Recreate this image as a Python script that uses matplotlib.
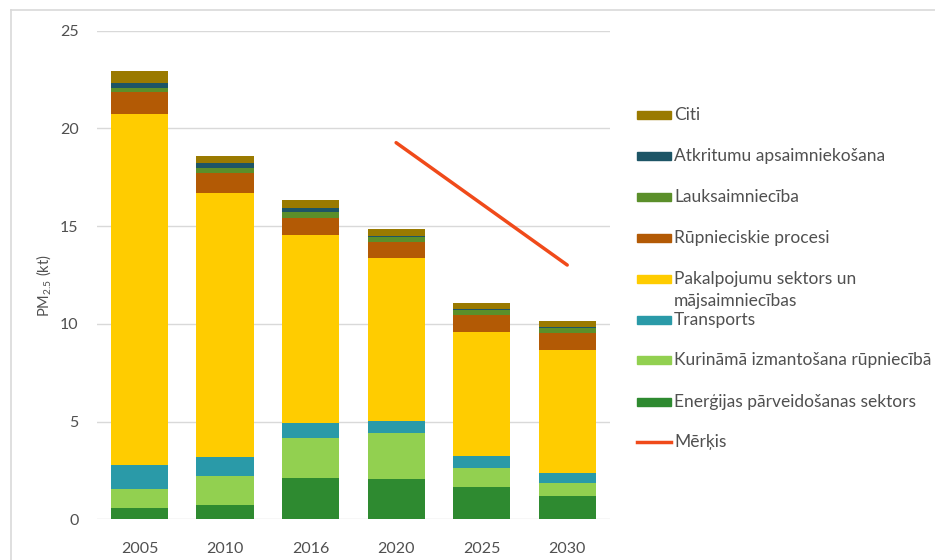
import matplotlib.pyplot as plt
from matplotlib.lines import Line2D
from matplotlib.patches import Rectangle

plt.rcParams['font.family'] = ['Lato', 'DejaVu Sans']
plt.rcParams['font.size'] = 11

years = ["2005", "2010", "2016", "2020", "2025", "2030"]

# sektoru vērtības (kt), no apakšas uz augšu
energija = [0.59, 0.72, 2.10, 2.06, 1.67, 1.21]
kurinama = [0.96, 1.48, 2.06, 2.34, 0.96, 0.65]
transports = [1.23, 1.00, 0.78, 0.65, 0.61, 0.53]
pakalpojumu = [17.95, 13.48, 9.62, 8.31, 6.36, 6.28]
rupnieciskie = [1.12, 1.03, 0.88, 0.85, 0.86, 0.88]
lauksaimn = [0.21, 0.25, 0.26, 0.22, 0.23, 0.26]
atkritumi = [0.25, 0.26, 0.23, 0.06, 0.05, 0.05]
citi = [0.63, 0.36, 0.41, 0.35, 0.35, 0.29]

merkis_x = ["2020", "2030"]
merkis = [19.27, 13.01]

series = [
    ("Enerģijas pārveidošanas sektors", energija, "#2e8a30"),
    ("Kurināmā izmantošana rūpniecībā", kurinama, "#92d050"),
    ("Transports", transports, "#2a9aa8"),
    ("Pakalpojumu sektors un\nmājsaimniecības", pakalpojumu, "#ffcc00"),
    ("Rūpnieciskie procesi", rupnieciskie, "#b35a05"),
    ("Lauksaimniecība", lauksaimn, "#5b8f2a"),
    ("Atkritumu apsaimniekošana", atkritumi, "#1d5566"),
    ("Citi", citi, "#9a7a00"),
]
line_color = "#f04a1a"
txt_color = "#505050"

fig = plt.figure(figsize=(9.35, 5.6), dpi=100)
ax = fig.add_axes([0.1034, 0.0727, 0.549, 0.8725])

x = list(range(len(years)))
bottom = [0.0] * len(years)
for name, vals, col in series:
    ax.bar(x, vals, bottom=bottom, width=0.667, color=col, zorder=3)
    bottom = [b + v for b, v in zip(bottom, vals)]

mx = [years.index(y) for y in merkis_x]
ax.plot(mx, merkis, color=line_color, lw=2.5, solid_capstyle='round', zorder=4)

ax.set_xlim(-0.5, 5.5)
ax.set_ylim(0, 25)
ax.set_yticks([0, 5, 10, 15, 20, 25])
ax.set_xticks(x)
ax.set_xticklabels(years)
ax.grid(axis='y', color='#d9d9d9', lw=1, zorder=0)
for s in ax.spines.values():
    s.set_visible(False)
ax.tick_params(length=0, colors=txt_color, labelsize=11.5)
ax.tick_params(axis='y', pad=13)
ax.tick_params(axis='x', pad=16)
fig.text(0.047, 0.49, r'PM$_{\mathregular{2.5}}$ (kt)', rotation=90,
         ha='center', va='center', fontsize=10.5, color=txt_color)

# leģenda (kā Excel)
rows = [
    ("Citi", "#9a7a00", 115),
    ("Atkritumu apsaimniekošana", "#1d5566", 156),
    ("Lauksaimniecība", "#5b8f2a", 197),
    ("Rūpnieciskie procesi", "#b35a05", 238),
    ("Pakalpojumu sektors un\nmājsaimniecības", "#ffcc00", 279),
    ("Transports", "#2a9aa8", 320),
    ("Kurināmā izmantošana rūpniecībā", "#92d050", 360),
    ("Enerģijas pārveidošanas sektors", "#2e8a30", 402),
]
W, H = 935, 560
for name, col, py in rows:
    fig.patches.append(Rectangle((637 / W, 1 - (py + 4) / H), 34 / W, 8 / H,
                                 color=col, transform=fig.transFigure))
    if '\n' in name:
        fig.text(674 / W, 1 - (py - 8) / H, name, ha='left', va='top',
                 fontsize=12.5, color=txt_color, linespacing=1.45)
    else:
        fig.text(674 / W, 1 - py / H, name, ha='left', va='center',
                 fontsize=12.5, color=txt_color)
fig.lines.append(Line2D([637 / W, 671 / W], [1 - 442 / H] * 2, color=line_color,
                        lw=2.5, transform=fig.transFigure))
fig.text(674 / W, 1 - 442 / H, "Mērķis", ha='left', va='center', fontsize=12.5,
         color=txt_color)

# rāmis
fig.lines.append(Line2D([11 / W, 1], [1 - 10 / H] * 2, color='#d9d9d9', lw=1.2,
                        transform=fig.transFigure))
fig.lines.append(Line2D([11 / W] * 2, [0, 1 - 10 / H], color='#d9d9d9', lw=1.2,
                        transform=fig.transFigure))

fig.savefig("out.png", dpi=100)
